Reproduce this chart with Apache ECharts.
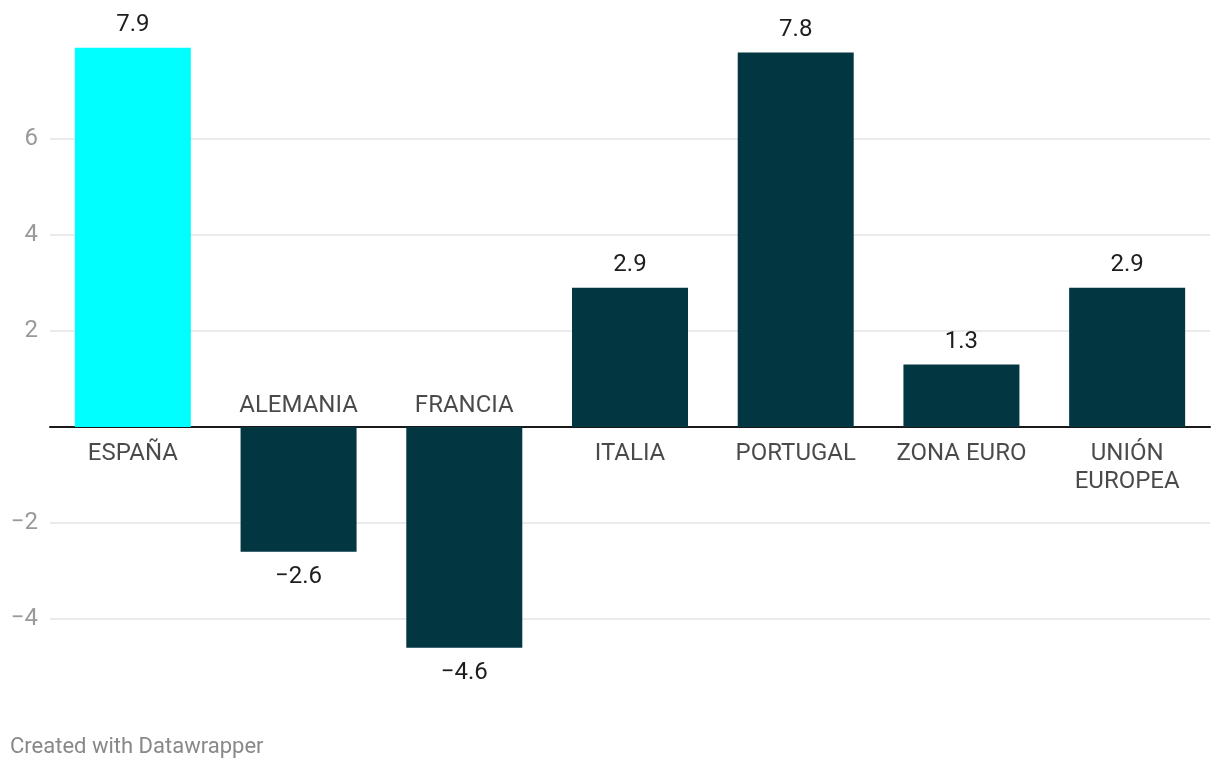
<!DOCTYPE html>
<html>
<head>
<meta charset="utf-8">
<script src="https://cdn.jsdelivr.net/npm/echarts@6/dist/echarts.min.js"></script>
<style>html,body{margin:0;padding:0;background:#fff}#c{width:1220px;height:768px}</style>
</head>
<body>
<div id="c"></div>
<script>
const categories = ['ESPAÑA', 'ALEMANIA', 'FRANCIA', 'ITALIA', 'PORTUGAL', 'ZONA EURO', 'UNIÓN\nEUROPEA'];
const values = [7.9, -2.6, -4.6, 2.9, 7.8, 1.3, 2.9];
const highlight = 'ESPAÑA';
const yTicks = { min: -6, max: 8, interval: 2 };

const fmt = v => String(v).replace('-', '\u2212');
const FONT = 'Roboto';
const chart = echarts.init(document.getElementById('c'), null, { renderer: 'canvas' });

chart.setOption({
  animation: false,
  textStyle: { fontFamily: FONT },
  grid: { left: 50, right: 10, top: 43, bottom: 53, containLabel: false },
  xAxis: {
    type: 'category',
    data: categories,
    axisLine: { onZero: true, lineStyle: { color: '#1a1a1a', width: 2 } },
    axisTick: { show: false },
    axisLabel: { show: false },
    splitLine: { show: false }
  },
  yAxis: {
    type: 'value',
    min: yTicks.min, max: yTicks.max, interval: yTicks.interval,
    axisLine: { show: false },
    axisTick: { show: false },
    axisLabel: {
      color: '#9a9a9a', fontSize: 24, fontFamily: FONT, margin: 12,
      showMinLabel: false, showMaxLabel: false,
      formatter: v => v === 0 ? '' : fmt(v)
    },
    splitLine: { show: true, showMinLine: false, showMaxLine: false, lineStyle: { color: '#e5e5e5', width: 1.5 } }
  },
  series: [
    {
      type: 'bar',
      barCategoryGap: '30%',
      data: values.map((v, i) => ({
        value: v,
        itemStyle: { color: categories[i] === highlight ? '#00ffff' : '#023641' },
        label: v >= 0 ? { position: 'top', distance: 11 } : { position: 'bottom', distance: 13 }
      })),
      label: {
        show: true, fontSize: 24, color: '#1d1d1d', fontFamily: FONT,
        formatter: p => fmt(p.value)
      }
    },
    {
      type: 'scatter',
      symbolSize: 0,
      silent: true,
      data: values.map((v, i) => ({
        value: [categories[i], 0],
        label: v >= 0 ? { position: 'bottom', distance: 13 } : { position: 'top', distance: 7 }
      })),
      label: {
        show: true, fontSize: 24, color: '#1d1d1d', fontFamily: FONT, lineHeight: 28,
        align: 'center',
        formatter: p => p.name || p.value[0]
      }
    }
  ],
  graphic: [{
    type: 'text', left: 10, top: 736,
    style: { text: 'Created with Datawrapper', fill: '#888888', fontSize: 22, fontFamily: FONT }
  }]
});
</script>
</body>
</html>
